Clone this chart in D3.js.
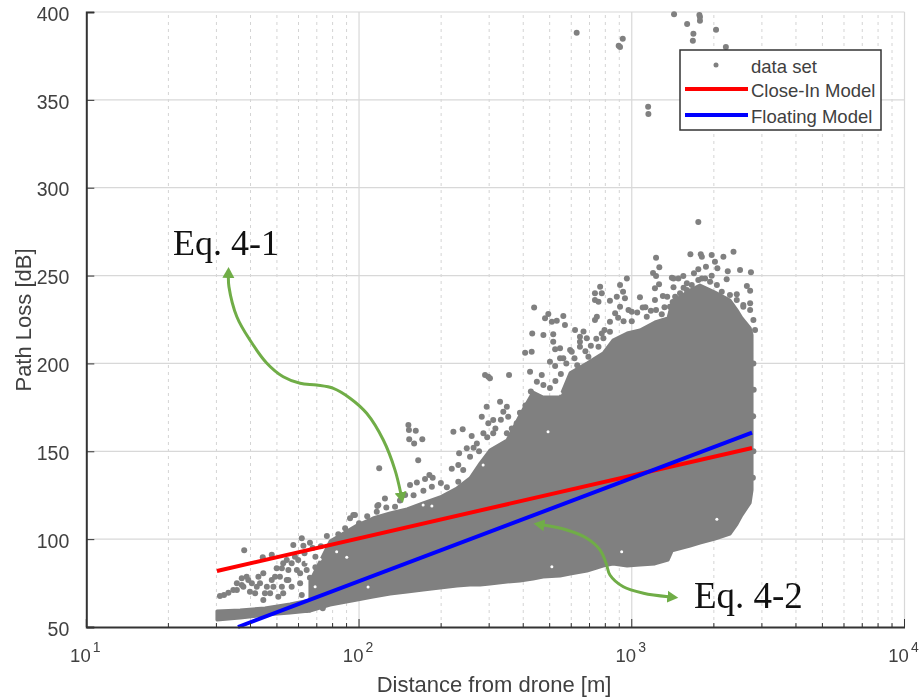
<!DOCTYPE html>
<html>
<head>
<meta charset="utf-8">
<script src="https://d3js.org/d3.v7.min.js"></script>
<style>
body { margin: 0; background: #fff; }
svg { display: block; filter: blur(0.4px); }
text { font-family: "Liberation Sans", Arial, sans-serif; fill: #404040; }
</style>
</head>
<body>
<div id="chart"></div>
<script>
// all distances are log10(metres), losses are dB
const decades = [10, 100, 1000, 10000];
const minorTicks = [20,30,40,50,60,70,80,90,200,300,400,500,600,700,800,900,2000,3000,4000,5000,6000,7000,8000,9000];
const lossTicks = [50, 100, 150, 200, 250, 300, 350, 400];

// dense cloud outline
const massLog = [1.82,1.894,1.993,2.051,2.114,2.176,2.235,2.297,2.359,2.407,2.444,2.480,2.543,2.590,2.638,2.675,2.737,2.774,2.836,2.895,2.931,2.983,3.030,3.085,3.133,3.148,3.214,3.250,3.305,3.360,3.386,3.404,3.434,3.441];
const massUpper = [76,98.9,108,112,114.9,117.2,120.6,124,129.1,134.8,143.3,150.7,156.4,170.6,183.7,180.9,180.9,194.6,200.2,205.9,213.3,217.3,219,223.6,225.9,235,241.8,244.6,240.6,236.1,230.4,225.9,220.2,216.2];
const massLower = [59,62.5,65.4,67.1,68.8,69.9,71.1,72.2,73.3,73.9,73.9,74.5,75.6,76.2,77.3,78.5,79,80.2,81.9,84.7,85.9,84.7,85.3,85.9,88.1,93.3,96.1,97.8,100.1,102.9,108.6,113.7,120.6,128];

// narrow strip at short range
const stripLog = [1.479,1.564,1.655,1.747,1.82];
const stripUpper = [59.1,59.7,60.8,63.1,65.4];
const stripLower = [54,55.1,56.8,58,59.1];

const farOutliers = [[2.798,388.2],[2.967,384.8],[2.952,380.8],[2.957,380.1],[3.155,398.7],[3.248,398.3],[3.25,397.2],[3.25,395],[3.203,393.2],[3.226,387.6],[3.224,383.7],[3.309,389.9],[3.345,380.1],[3.06,346.1],[3.061,342],[3.244,280.5]];

const topOutliers = [[3.215,262.1],[3.253,262.1],[3.257,260.7],[3.293,261.7],[3.336,260.7],[3.373,263.6],[3.089,260.2],[3.101,254.7],[3.089,249.8],[3.397,253.2],[3.437,251.9],[3.352,252.4],[3.305,257.9],[3.272,255],[3.314,254.1],[3.244,253.6],[3.228,251.3],[3.189,249.8],[3.147,248.8],[3.171,248.4],[3.422,244.1],[3.434,241.4],[3.385,239.3],[3.348,247.9],[3.293,249.9],[3.257,248.4],[3.202,245.6],[3.153,243.3],[3.085,242.8],[3.114,238.4],[3.03,237.6],[3.04,231.9],[3.085,236.1],[3.089,230.4],[3.434,234.2],[3,229.4],[3.055,226.6],[3.409,232.3]];

const topEdge = [[3.14,232.3],[3.159,238],[3.177,239.9],[3.202,241.8],[3.22,244.6],[3.244,247.5],[3.269,248.4],[3.287,246.5],[3.312,244.6],[3.33,240.8],[3.36,238.9],[3.385,236.1],[3.409,233.3],[3.434,230.4],[3.446,224.7],[3.452,219],[3.446,200],[3.447,185],[3.445,170],[3.446,150],[3.444,135],[3.15,225],[3.15,235],[3.09,222],[3.11,228],[3.1,245],[2.982,248.4],[2.957,244.6],[2.968,240.8],[2.884,243.7],[2.865,236.1],[3.078,251.5],[3.153,248.4]];

const midOutliers = [[2.642,231.9],[2.694,228.1],[2.682,225.7],[2.707,223.7],[2.749,227],[2.725,224.3],[2.755,221.9],[2.635,217.1],[2.676,216.2],[2.712,216.6],[2.712,212.4],[2.609,206.1],[2.633,206.7],[2.719,208],[2.737,208.6],[2.792,219],[2.823,218.1],[2.81,215.2],[2.835,214.3],[2.81,209.5],[2.78,206.7],[2.737,202.9],[2.7,201],[2.719,198.5],[2.749,202.9],[2.627,195.3],[2.55,193.4],[2.67,193.4],[2.652,189.6],[2.676,187.7],[2.865,239.9],[2.89,239.9],[2.878,235.1],[2.945,238],[2.975,237.1],[2.92,235.7],[2.872,226.6],[2.865,224.7],[2.939,228.5],[2.957,232.3],[2.988,230.4],[2.92,223.7],[2.89,217.1],[2.841,203.8],[2.774,207.6],[2.81,212.4],[2.878,209.5],[2.896,214.3],[2.542,175.4],[2.474,192.4],[2.462,193.4],[2.48,191.5]];

// dots that fringe the cloud just above its outline
const cloudFringe = [[2.59,172],[2.61,176],[2.63,184],[2.655,178],[2.7,186],[2.72,190],[2.74,194],[2.76,200],[2.79,203],[2.8,199],[2.83,207],[2.85,210],[2.87,214],[2.9,219],[2.92,218],[2.95,226],[2.97,224],[3,224],[3.02,229],[3.05,232],[3.07,230],[3.12,232],[3.13,238],[3.19,243],[3.23,239],[2.47,158],[2.5,163],[2.52,168],[2.56,163],[2.44,150],[2.42,152],[2.34,140],[2.3,132],[2.27,135],[2.2,125],[2.15,122],[2.1,118],[2.03,113],[2,109],[1.94,99]];

const lowOutliers = [[2.181,165],[2.183,162.1],[2.208,161.7],[2.184,156.8],[2.202,154.5],[2.232,156.8],[2.217,144.9],[2.074,140.3],[2.258,136.5],[2.242,134.2],[2.212,132.3],[2.187,130.8],[2.169,125.1],[2.095,123.2],[2.071,119.4],[1.979,113.7],[2.132,118.5],[2.236,127.6],[2.267,129.8],[2.322,129.5],[2.364,132.7],[2.364,142.2],[2.382,139.3],[2.367,148.9],[2.395,151.7],[2.407,146.9],[2.346,161.1],[2.38,162.5],[2.413,158.7],[2.432,154.5],[2.45,169.7],[2.468,175.4],[2.474,165.9],[2.517,178.2],[2.529,172.5],[2.492,167.8],[2.578,165.9],[2.547,169.7],[2.456,160.2],[2.492,160.2],[2.542,160.2]];

const leftCluster = [[1.579,93.7],[1.647,89.7],[1.68,91.1],[1.49,67.6],[1.505,68.2],[1.521,69.5],[1.539,71.1],[1.552,74.9],[1.57,77.7],[1.588,78.6],[1.57,73.9],[1.6,70.1],[1.619,69.2],[1.631,78.6],[1.649,80.6],[1.637,74.9],[1.655,69.2],[1.649,65.4],[1.68,76.7],[1.698,83.4],[1.71,78.6],[1.686,72.9],[1.704,67.2],[1.722,86.3],[1.741,82.4],[1.735,76.7],[1.753,72.9],[1.784,74.9],[1.759,96.7],[1.79,100.5],[1.796,96.3],[1.777,88.1],[1.772,82.4],[1.79,68.2],[1.808,59.7],[1.867,60.6],[1.741,59.3],[1.882,101.8],[1.924,102.8],[1.949,106.2],[1.955,102.4],[1.985,113.7],[1.967,111.9],[2.067,118.9],[2.065,115.6],[1.662,72.9],[1.674,69.2],[1.717,72.9],[1.722,69.2],[1.607,74.9],[1.625,72.9],[1.552,71.1],[1.576,72.9],[1.594,76.7],[1.735,88.1],[1.692,78.6],[1.753,86.3],[1.765,90],[1.717,83.4],[1.741,76.7],[1.784,80.6],[1.808,82.4],[1.84,90],[1.84,84],[1.86,96],[1.83,95],[1.8,92],[1.82,98],[1.8,86],[1.82,78]];

// small empty specks inside the cloud
const cloudGaps = [[1.857,88.5],[1.808,87.2],[1.839,72.9],[1.955,89.7],[1.918,92.8],[2.033,72.8],[2.235,119.4],[2.267,118.9],[2.455,142.2],[2.737,183],[2.693,161.1],[3.312,111.3],[2.707,84.3],[2.963,92.8]];

const closeInLog = [1.479, 3.441];
const closeInLoss = [81.9, 151.9];
const floatingLog = [1.556, 3.441];
const floatingLoss = [50, 160.6];

// green callout arrows
const arrowOne = [[1.521,249.2],[1.523,243.7],[1.552,226.6],[1.6,213.3],[1.662,200.1],[1.722,192.4],[1.784,188.7],[1.845,187.7],[1.906,185.8],[1.967,180.2],[2.028,171.6],[2.089,156.4],[2.132,139.3],[2.153,126.1]];
const arrowTwo = [[2.676,108],[2.762,105.2],[2.835,100.5],[2.884,93.8],[2.906,86.3],[2.92,79.6],[2.969,72.9],[3.043,69.2],[3.134,67.2]];

const seriesNames = ["data set", "Close-In Model", "Floating Model"];

const grey = "#808080";
const width = 919, height = 699;

const svg = d3.select("#chart").append("svg")
    .attr("width", width)
    .attr("height", height);

const x = d3.scaleLog().domain([10, 10000]).range([86.3, 904.5]);
const y = d3.scaleLinear().domain([50, 400]).range([627, 12]);
const xl = l => x(Math.pow(10, l));

// grid
const grid = svg.append("g");
grid.selectAll(".minor").data(minorTicks).join("line")
    .attr("x1", d => x(d)).attr("x2", d => x(d))
    .attr("y1", y(50)).attr("y2", y(400))
    .attr("stroke", "#d4d4d4").attr("stroke-dasharray", "3,4");
grid.selectAll(".major").data(decades.slice(1, 3)).join("line")
    .attr("x1", d => x(d)).attr("x2", d => x(d))
    .attr("y1", y(50)).attr("y2", y(400))
    .attr("stroke", "#d8d8d8").attr("stroke-width", 1.2);
grid.selectAll(".h").data(lossTicks.slice(1)).join("line")
    .attr("x1", x(10)).attr("x2", x(10000))
    .attr("y1", d => y(d)).attr("y2", d => y(d))
    .attr("stroke", "#d8d8d8").attr("stroke-width", 1.2);
grid.append("line")
    .attr("x1", x(10000)).attr("x2", x(10000))
    .attr("y1", y(50)).attr("y2", y(400))
    .attr("stroke", "#d8d8d8").attr("stroke-width", 1.2);

// cloud
const band = d3.area().x(d => xl(d[0])).y0(d => y(d[2])).y1(d => y(d[1]));
svg.append("path")
    .attr("d", band(massLog.map((l, i) => [l, massUpper[i], massLower[i]])))
    .attr("fill", grey).attr("stroke", grey).attr("stroke-width", 3).attr("stroke-linejoin", "round");
svg.append("path")
    .attr("d", band(stripLog.map((l, i) => [l, stripUpper[i], stripLower[i]])))
    .attr("fill", grey).attr("stroke", grey).attr("stroke-width", 3).attr("stroke-linejoin", "round");

const scatter = [].concat(farOutliers, topOutliers, topEdge, midOutliers, cloudFringe, lowOutliers, leftCluster);
svg.append("g").selectAll("circle").data(scatter).join("circle")
    .attr("cx", d => xl(d[0])).attr("cy", d => y(d[1]))
    .attr("r", 3).attr("fill", grey);
svg.append("g").selectAll("circle").data(cloudGaps).join("circle")
    .attr("cx", d => xl(d[0])).attr("cy", d => y(d[1]))
    .attr("r", 1.5).attr("fill", "#fff");

// fits
const fitLine = d3.line().x(d => xl(d[0])).y(d => y(d[1]));
svg.append("path").attr("d", fitLine(d3.zip(closeInLog, closeInLoss)))
    .attr("fill", "none").attr("stroke", "#ff0000").attr("stroke-width", 4);
svg.append("path").attr("d", fitLine(d3.zip(floatingLog, floatingLoss)))
    .attr("fill", "none").attr("stroke", "#0000ff").attr("stroke-width", 4);

// axes
const xAxis = svg.append("g").attr("transform", `translate(0,${y(50)})`)
    .call(d3.axisBottom(x).tickValues(decades).tickSize(0).tickFormat(() => ""));
xAxis.select(".domain").attr("stroke", "#333").attr("stroke-width", 2);
xAxis.selectAll(".tick text").remove();
xAxis.selectAll(".inner").data(decades.concat(minorTicks)).join("line")
    .attr("x1", d => x(d)).attr("x2", d => x(d))
    .attr("y1", 0).attr("y2", d => decades.includes(d) ? -8 : -4)
    .attr("stroke", "#333");

const xLabels = svg.append("g").selectAll("text").data(decades).join("text")
    .attr("x", d => x(d) - 1).attr("y", 662)
    .attr("text-anchor", "middle").attr("font-size", 18.5);
xLabels.append("tspan").text("10");
xLabels.append("tspan").attr("dx", 2).attr("dy", -10).attr("font-size", 14)
    .text(d => Math.log10(d));

const yAxis = svg.append("g").attr("transform", `translate(${x(10)},0)`)
    .call(d3.axisLeft(y).tickValues(lossTicks).tickSize(-8).tickPadding(17));
yAxis.select(".domain").attr("stroke", "#333").attr("stroke-width", 2);
yAxis.selectAll("line").attr("stroke", "#333");
yAxis.selectAll("text").attr("font-size", 19.5).attr("dy", "0.42em");

svg.append("text").attr("x", 494).attr("y", 692).attr("text-anchor", "middle")
    .attr("font-size", 22).text("Distance from drone [m]");
svg.append("text").attr("transform", "translate(31,320) rotate(-90)").attr("text-anchor", "middle")
    .attr("font-size", 22).text("Path Loss [dB]");

// arrows
const defs = svg.append("defs");
defs.append("marker").attr("id", "head")
    .attr("markerUnits", "userSpaceOnUse")
    .attr("markerWidth", 13).attr("markerHeight", 13)
    .attr("refX", 1).attr("refY", 6.5).attr("orient", "auto-start-reverse")
    .append("path").attr("d", "M0,0.5L11,6.5L0,12.5Z").attr("fill", "#70ad47");
const curve = d3.line().x(d => xl(d[0])).y(d => y(d[1])).curve(d3.curveCatmullRom.alpha(0.5));
[arrowOne, arrowTwo].forEach(a => {
    svg.append("path").attr("d", curve(a))
        .attr("fill", "none").attr("stroke", "#70ad47").attr("stroke-width", 3)
        .attr("marker-start", "url(#head)").attr("marker-end", "url(#head)");
});

svg.append("text").attr("x", xl(1.318)).attr("y", y(261.7))
    .style("font-family", "'Liberation Serif', serif").style("fill", "#111")
    .attr("font-size", 36).text("Eq. 4-1");
svg.append("text").attr("x", xl(3.228)).attr("y", y(60.8))
    .style("font-family", "'Liberation Serif', serif").style("fill", "#111")
    .attr("font-size", 37).text("Eq. 4-2");

// legend
const legend = svg.append("g").attr("transform", "translate(680,50)");
legend.append("rect").attr("width", 201).attr("height", 80)
    .attr("fill", "#fff").attr("stroke", "#333").attr("stroke-width", 1.5);
legend.append("circle").attr("cx", 36).attr("cy", 15).attr("r", 2.5).attr("fill", grey);
legend.append("line").attr("x1", 5).attr("x2", 68).attr("y1", 39).attr("y2", 39)
    .attr("stroke", "#ff0000").attr("stroke-width", 4);
legend.append("line").attr("x1", 5).attr("x2", 68).attr("y1", 65).attr("y2", 65)
    .attr("stroke", "#0000ff").attr("stroke-width", 4);
legend.selectAll(".name").data(seriesNames).join("text")
    .attr("x", 71).attr("y", (d, i) => [23, 47, 73][i])
    .attr("font-size", 18.5).text(d => d);
</script>
</body>
</html>
